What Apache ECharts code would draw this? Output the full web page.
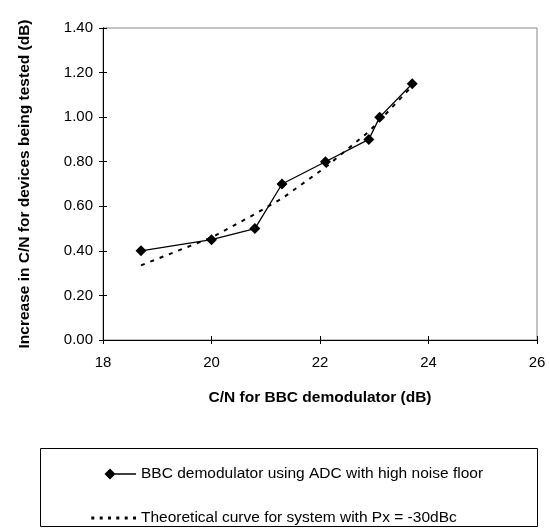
<!DOCTYPE html>
<html>
<head>
<meta charset="utf-8">
<script src="https://cdn.jsdelivr.net/npm/echarts@6/dist/echarts.min.js"></script>
<style>
  html, body { margin: 0; padding: 0; background: #fff; }
  #chart { width: 550px; height: 528px; }
</style>
</head>
<body>
<div id="chart"></div>
<script>
const measuredX = [18.7, 20.0, 20.8, 21.3, 22.1, 22.9, 23.1, 23.7];
const measuredY = [0.40, 0.45, 0.50, 0.70, 0.80, 0.90, 1.00, 1.15];
const theoryX = [18.7, 20.0, 20.8, 21.3, 22.1, 22.9, 23.1, 23.7];
const theoryY = [0.335, 0.46, 0.565, 0.635, 0.775, 0.935, 0.985, 1.14];
const seriesNames = [
  'BBC demodulator using ADC with high noise floor',
  'Theoretical curve for system with Px = -30dBc'
];
const xAxisName = 'C/N for BBC demodulator (dB)';
const yAxisName = 'Increase in C/N for devices being tested (dB)';

const FONT = '"Liberation Sans", Arial, sans-serif';
const chart = echarts.init(document.getElementById('chart'), null, { renderer: 'canvas' });

const pairs = (xs, ys) => xs.map((x, i) => [x, ys[i]]);

// legend icons (46 x 11 box)
const solidIcon = 'path://M0,5.5L0,5.5ZM14.5,5.5L20,0L25.5,5.5L20,11ZM25,4.85L46,4.85L46,6.15L25,6.15Z';
let dots = 'path://M0,0L0,0ZM0,11L0,11Z';
[1.3, 9.7, 18, 26.3, 34.7, 43].forEach(x => {
  dots += 'M' + x + ',4L' + (x + 3) + ',4L' + (x + 3) + ',7L' + x + ',7Z';
});

const baseX = {
  type: 'value', min: 18, max: 26, interval: 2,
  axisLine: { show: true, onZero: false, lineStyle: { color: '#000', width: 1 } },
  splitLine: { show: false }
};
const baseY = {
  type: 'value', min: 0, max: 1.4, interval: 0.2,
  axisLine: { show: true, onZero: false, lineStyle: { color: '#000', width: 1 } },
  splitLine: { show: false }
};

const legendCommon = {
  orient: 'vertical',
  left: 85,
  itemWidth: 46, itemHeight: 11,
  itemStyle: { borderWidth: 0 },
  textStyle: { fontFamily: FONT, fontSize: 15.5, color: '#000' }
};

chart.setOption({
  animation: false,
  backgroundColor: '#fff',
  grid: {
    left: 103, right: 13, top: 28, bottom: 188,
    show: true, borderColor: '#888', borderWidth: 1, backgroundColor: '#fff'
  },
  xAxis: [
    Object.assign({}, baseX, {
      position: 'bottom',
      name: xAxisName, nameLocation: 'middle', nameGap: 50,
      nameTextStyle: { fontFamily: FONT, fontSize: 15.5, fontWeight: 'bold', color: '#000' },
      axisTick: { show: true, inside: false, length: 4, lineStyle: { color: '#000' } },
      axisLabel: { fontFamily: FONT, fontSize: 15, color: '#000', margin: 15 }
    }),
    Object.assign({}, baseX, {
      position: 'bottom',
      axisTick: { show: true, inside: true, length: 4, lineStyle: { color: '#000' } },
      axisLabel: { show: false }
    })
  ],
  yAxis: [
    Object.assign({}, baseY, {
      position: 'left',
      name: yAxisName, nameLocation: 'middle', nameGap: 70, nameRotate: 90,
      nameTextStyle: { fontFamily: FONT, fontSize: 15.5, fontWeight: 'bold', color: '#000' },
      axisTick: { show: true, inside: false, length: 4, lineStyle: { color: '#000' } },
      axisLabel: { fontFamily: FONT, fontSize: 15, color: '#000', margin: 10,
        formatter: v => v.toFixed(2) }
    }),
    Object.assign({}, baseY, {
      position: 'left', offset: 0,
      axisTick: { show: true, inside: true, length: 4, lineStyle: { color: '#000' } },
      axisLabel: { show: false }
    })
  ],
  legend: [
    Object.assign({}, legendCommon, {
      top: 461,
      data: [{ name: seriesNames[0], icon: solidIcon }]
    }),
    Object.assign({}, legendCommon, {
      top: 505,
      data: [{ name: seriesNames[1], icon: dots }]
    })
  ],
  graphic: [{
    type: 'rect', left: 40, top: 448, z: -1,
    shape: { width: 497, height: 78 },
    style: { fill: '#fff', stroke: '#000', lineWidth: 1 }
  }],
  series: [
    {
      name: seriesNames[1], type: 'line',
      data: pairs(theoryX, theoryY),
      showSymbol: false, symbol: 'none',
      lineStyle: { color: '#000', width: 2, type: [4, 6] },
      itemStyle: { color: '#000' },
      z: 2
    },
    {
      name: seriesNames[0], type: 'line',
      data: pairs(measuredX, measuredY),
      symbol: 'diamond', symbolSize: 11,
      lineStyle: { color: '#000', width: 1.3 },
      itemStyle: { color: '#000' },
      z: 3
    }
  ]
});
</script>
</body>
</html>
